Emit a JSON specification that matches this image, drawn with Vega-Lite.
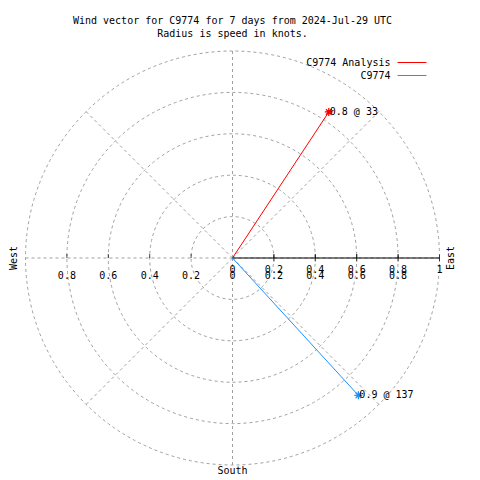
{
  "$schema": "https://vega.github.io/schema/vega-lite/v6.json",
  "autosize": {"type": "none"},
  "width": 414,
  "height": 414,
  "padding": {"left": 25.5, "top": 51, "right": 40.5, "bottom": 15},
  "background": "white",
  "config": {
    "view": {"stroke": null},
    "font": "DejaVu Sans Mono",
    "text": {"font": "DejaVu Sans Mono", "fontSize": 10, "color": "black"}
  },
  "title": {
    "text": ["Wind vector for C9774 for 7 days from 2024-Jul-29 UTC", "Radius is speed in knots."],
    "font": "DejaVu Sans Mono",
    "fontSize": 10,
    "fontWeight": "normal",
    "lineHeight": 12.7,
    "anchor": "middle",
    "frame": "group",
    "offset": 10,
    "color": "black"
  },
  "datasets": {
    "circles": [{"r": 0.2}, {"r": 0.4}, {"r": 0.6}, {"r": 0.8}, {"r": 1.0}],
    "spokes": [{"dir": 0}, {"dir": 45}, {"dir": 90}, {"dir": 135}, {"dir": 180}, {"dir": 225}, {"dir": 270}, {"dir": 315}],
    "rticks": [{"v": 0.2}, {"v": 0.4}, {"v": 0.6}, {"v": 0.8}, {"v": 1.0}],
    "xticks": [{"v": -0.8}, {"v": -0.6}, {"v": -0.4}, {"v": -0.2}, {"v": 0.2}, {"v": 0.4}, {"v": 0.6}, {"v": 0.8}],
    "xlabels": [
      {"v": -0.8, "label": "0.8"}, {"v": -0.6, "label": "0.6"}, {"v": -0.4, "label": "0.4"}, {"v": -0.2, "label": "0.2"},
      {"v": 0, "label": "0"}, {"v": 0.2, "label": "0.2"}, {"v": 0.4, "label": "0.4"}, {"v": 0.6, "label": "0.6"}, {"v": 0.8, "label": "0.8"}
    ],
    "rlabels": [
      {"v": 0, "label": "0"}, {"v": 0.2, "label": "0.2"}, {"v": 0.4, "label": "0.4"}, {"v": 0.6, "label": "0.6"}, {"v": 0.8, "label": "0.8"}, {"v": 1, "label": "1"}
    ],
    "vectors": [
      {"series": "C9774 Analysis", "speed": 0.845, "dir": 33.4, "label": "0.8 @ 33"},
      {"series": "C9774", "speed": 0.9, "dir": 137.5, "label": "0.9 @ 137"}
    ],
    "compass": [
      {"t": "West", "dir": 270},
      {"t": "East", "dir": 90},
      {"t": "South", "dir": 180}
    ]
  },
  "layer": [
    {
      "data": {"name": "spokes"},
      "transform": [
        {"calculate": "0", "as": "o"},
        {"calculate": "sin(datum.dir*PI/180)", "as": "ex"},
        {"calculate": "cos(datum.dir*PI/180)", "as": "ey"}
      ],
      "mark": {"type": "rule", "stroke": "#a0a0a0", "strokeWidth": 1, "strokeDash": [3, 3]},
      "encoding": {
        "x": {"field": "o", "type": "quantitative", "scale": {"domain": [-1, 1], "nice": false, "zero": false}, "axis": null},
        "y": {"field": "o", "type": "quantitative", "scale": {"domain": [-1, 1], "nice": false, "zero": false}, "axis": null},
        "x2": {"field": "ex"},
        "y2": {"field": "ey"}
      }
    },
    {
      "data": {"name": "circles"},
      "transform": [{"calculate": "0", "as": "o"}],
      "mark": {"type": "point", "shape": "circle", "filled": false, "stroke": "#a0a0a0", "strokeWidth": 1, "strokeDash": [3, 3], "opacity": 1},
      "encoding": {
        "x": {"field": "o", "type": "quantitative"},
        "y": {"field": "o", "type": "quantitative"},
        "size": {"field": "r", "type": "quantitative", "legend": null, "scale": {"type": "pow", "exponent": 2, "domain": [0, 1], "range": [0, 171396], "zero": true}}
      }
    },
    {
      "data": {"values": [{"a": 0, "b": 1}]},
      "transform": [{"calculate": "0", "as": "o"}],
      "mark": {"type": "rule", "stroke": "black", "strokeWidth": 1},
      "encoding": {
        "x": {"field": "a", "type": "quantitative"},
        "x2": {"field": "b"},
        "y": {"field": "o", "type": "quantitative"}
      }
    },
    {
      "data": {"name": "xticks"},
      "transform": [{"calculate": "0", "as": "o"}],
      "mark": {"type": "tick", "orient": "vertical", "size": 4, "thickness": 1, "yOffset": -2, "color": "black"},
      "encoding": {
        "x": {"field": "v", "type": "quantitative"},
        "y": {"field": "o", "type": "quantitative"}
      }
    },
    {
      "data": {"name": "rticks"},
      "transform": [{"calculate": "0", "as": "o"}],
      "mark": {"type": "tick", "orient": "vertical", "size": 7, "thickness": 1, "color": "black"},
      "encoding": {
        "x": {"field": "v", "type": "quantitative"},
        "y": {"field": "o", "type": "quantitative"}
      }
    },
    {
      "data": {"name": "xlabels"},
      "transform": [{"calculate": "0", "as": "o"}],
      "mark": {"type": "text", "align": "center", "baseline": "middle", "dy": 17.5},
      "encoding": {
        "x": {"field": "v", "type": "quantitative"},
        "y": {"field": "o", "type": "quantitative"},
        "text": {"field": "label"}
      }
    },
    {
      "data": {"name": "rlabels"},
      "transform": [{"calculate": "0", "as": "o"}],
      "mark": {"type": "text", "align": "center", "baseline": "middle", "dy": 12},
      "encoding": {
        "x": {"field": "v", "type": "quantitative"},
        "y": {"field": "o", "type": "quantitative"},
        "text": {"field": "label"}
      }
    },
    {
      "data": {"name": "vectors"},
      "transform": [
        {"calculate": "0", "as": "o"},
        {"calculate": "datum.speed*sin(datum.dir*PI/180)", "as": "ex"},
        {"calculate": "datum.speed*cos(datum.dir*PI/180)", "as": "ey"}
      ],
      "layer": [
        {
          "mark": {"type": "rule", "strokeWidth": 1},
          "encoding": {
            "x": {"field": "o", "type": "quantitative"},
            "y": {"field": "o", "type": "quantitative"},
            "x2": {"field": "ex"},
            "y2": {"field": "ey"},
            "color": {
              "field": "series", "type": "nominal",
              "scale": {"domain": ["C9774 Analysis", "C9774"], "range": ["#ff0000", "#1e90ff"]},
              "legend": {
                "title": null,
                "orient": "none",
                "legendX": 381,
                "legendY": 6,
                "symbolType": "M-3,0L3,0",
                "symbolSize": 93,
                "symbolStrokeWidth": 1,
                "labelAlign": "right",
                "labelOffset": -27,
                "labelFont": "DejaVu Sans Mono",
                "labelFontSize": 10,
                "labelColor": "black",
                "rowPadding": 2,
                "padding": 0
              }
            }
          }
        },
        {
          "mark": {"type": "point", "shape": "M-1,0L1,0M0,-1L0,1M-0.7,-0.7L0.7,0.7M-0.7,0.7L0.7,-0.7", "filled": false, "size": 64, "strokeWidth": 1.3, "opacity": 1},
          "encoding": {
            "x": {"field": "ex", "type": "quantitative"},
            "y": {"field": "ey", "type": "quantitative"},
            "stroke": {
              "field": "series", "type": "nominal",
              "scale": {"domain": ["C9774 Analysis", "C9774"], "range": ["#ff0000", "#1e90ff"]},
              "legend": null
            }
          }
        },
        {
          "mark": {"type": "text", "align": "left", "baseline": "middle", "dx": 1},
          "encoding": {
            "x": {"field": "ex", "type": "quantitative"},
            "y": {"field": "ey", "type": "quantitative"},
            "text": {"field": "label"}
          }
        }
      ]
    },
    {
      "data": {"name": "compass"},
      "transform": [
        {"calculate": "sin(datum.dir*PI/180)", "as": "ex"},
        {"calculate": "cos(datum.dir*PI/180)", "as": "ey"}
      ],
      "layer": [
        {
          "transform": [{"filter": "datum.t == 'West'"}],
          "mark": {"type": "text", "angle": 270, "align": "center", "baseline": "middle", "dy": -11.5},
          "encoding": {"x": {"field": "ex", "type": "quantitative"}, "y": {"field": "ey", "type": "quantitative"}, "text": {"field": "t"}}
        },
        {
          "transform": [{"filter": "datum.t == 'East'"}],
          "mark": {"type": "text", "angle": 270, "align": "center", "baseline": "middle", "dy": 11},
          "encoding": {"x": {"field": "ex", "type": "quantitative"}, "y": {"field": "ey", "type": "quantitative"}, "text": {"field": "t"}}
        },
        {
          "transform": [{"filter": "datum.t == 'South'"}],
          "mark": {"type": "text", "align": "center", "baseline": "middle", "dy": 6},
          "encoding": {"x": {"field": "ex", "type": "quantitative"}, "y": {"field": "ey", "type": "quantitative"}, "text": {"field": "t"}}
        }
      ]
    }
  ]
}
